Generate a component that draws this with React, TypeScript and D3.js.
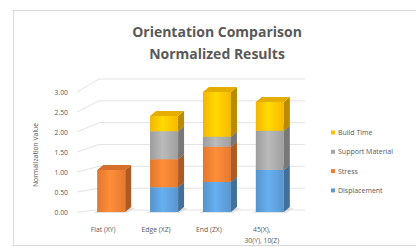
import React from "react";
import * as d3 from "d3";

const categories = ["Flat (XY)", "Edge (XZ)", "End (ZX)", "45(X), 30(Y), 10(Z)"];
const categoryLines = [["Flat (XY)"], ["Edge (XZ)"], ["End (ZX)"], ["45(X),", "30(Y), 10(Z)"]];
const seriesNames = ["Displacement", "Stress", "Support Material", "Build Time"];
const displacement = [0, 0.62, 0.75, 1.05];
const stress = [1.05, 0.7, 0.88, 0];
const supportMaterial = [0, 0.7, 0.25, 0.98];
const buildTime = [0, 0.38, 1.12, 0.72];
const yTicks = [0, 0.5, 1, 1.5, 2, 2.5, 3];
const colors = ["#5B9BD5", "#ED7D31", "#A5A5A5", "#FFC000"];

const W = 416;
const H = 247;

export default function App() {
  const values = [displacement, stress, supportMaterial, buildTime];
  const yFront = d3.scaleLinear().domain([0, 3]).range([212, 92]);
  const yBack = (v: number) => yFront(v) - (2 + 3.67 * v);
  const x = d3.scaleBand<string>().domain(categories).range([85, 296]).paddingInner(0.47).paddingOuter(0.23);
  const bw = x.bandwidth();
  const dx = 6;
  const dy = -5;
  const font = "'Open Sans', 'Liberation Sans', sans-serif";
  const txt = "#595959";

  const bars: React.ReactNode[] = [];
  categories.forEach((c, i) => {
    const x0 = x(c)!;
    let cum = 0;
    bars.push(
      <polygon key={`sh${i}`} points={`${x0 - 4},${yFront(0) + 1} ${x0 + bw + 2},${yFront(0) + 1} ${x0 + bw + dx + 4},${yFront(0) + dy + 1} ${x0 + dx},${yFront(0) + dy + 1}`} fill="#d0d0d0" opacity={0.6} />
    );
    values.forEach((arr, s) => {
      const v = arr[i];
      if (v <= 0) return;
      const yb = yFront(cum);
      const yt = yFront(cum + v);
      const col = d3.color(colors[s])!;
      const dark = col.darker(0.9).formatHex();
      const top = col.darker(0.3).formatHex();
      bars.push(
        <g key={`b${i}-${s}`}>
          <rect x={x0} y={yt} width={bw} height={yb - yt} fill={`url(#g${s})`} />
          <polygon points={`${x0 + bw},${yb} ${x0 + bw + dx},${yb + dy} ${x0 + bw + dx},${yt + dy} ${x0 + bw},${yt}`} fill={dark} />
          <polygon points={`${x0},${yt} ${x0 + bw},${yt} ${x0 + bw + dx},${yt + dy} ${x0 + dx},${yt + dy}`} fill={top} />
        </g>
      );
      cum += v;
    });
  });

  return (
    <svg width={W} height={H} style={{ position: "absolute", left: 0, top: 0 }}>
      <defs>
        {colors.map((c, s) => {
          const col = d3.color(c)!;
          return (
            <linearGradient key={s} id={`g${s}`} x1="0" x2="1" y1="0" y2="0">
              <stop offset="0%" stopColor={col.darker(0.15).formatHex()} />
              <stop offset="45%" stopColor={col.brighter(0.35).formatHex()} />
              <stop offset="100%" stopColor={col.darker(0.1).formatHex()} />
            </linearGradient>
          );
        })}
      </defs>
      <rect x={0} y={0} width={W} height={H} fill="#fff" />
      <rect x={13.5} y={10.5} width={W} height={235} fill="#fff" stroke="#d9d9d9" />
      <text x={217} y={37} textAnchor="middle" fontFamily={font} fontWeight="bold" fontSize={14} fill={txt}>Orientation Comparison</text>
      <text x={217} y={59} textAnchor="middle" fontFamily={font} fontWeight="bold" fontSize={14} fill={txt}>Normalized Results</text>
      {yTicks.map((t) => (
        <g key={t}>
          <line x1={77} y1={yFront(t)} x2={99} y2={yBack(t)} stroke="#e3e3e3" strokeWidth={1} />
          <line x1={99} y1={yBack(t)} x2={305} y2={yBack(t)} stroke="#e3e3e3" strokeWidth={1} />
          <text x={68} y={yFront(t) + 2.5} textAnchor="end" fontFamily={font} fontSize={6.8} fill={txt}>{t.toFixed(2)}</text>
        </g>
      ))}
      <text transform={`translate(38,155) rotate(-90)`} textAnchor="middle" fontFamily={font} fontSize={6.8} fill={txt}>Normalization Value</text>
      {bars}
      {categories.map((c, i) =>
        categoryLines[i].map((ln, j) => (
          <text key={`${c}${j}`} x={x(c)! + bw / 2 - 8} y={232 + j * 11} textAnchor="middle" fontFamily={font} fontSize={6.8} fill={txt}>{ln}</text>
        ))
      )}
      {seriesNames.slice().reverse().map((n, k) => {
        const s = seriesNames.length - 1 - k;
        const yy = 133 + k * 19.3;
        return (
          <g key={n}>
            <rect x={331} y={yy - 2.5} width={4} height={4} fill={colors[s]} />
            <text x={338} y={yy + 2} fontFamily={font} fontSize={7} fill={txt}>{n}</text>
          </g>
        );
      })}
    </svg>
  );
}
